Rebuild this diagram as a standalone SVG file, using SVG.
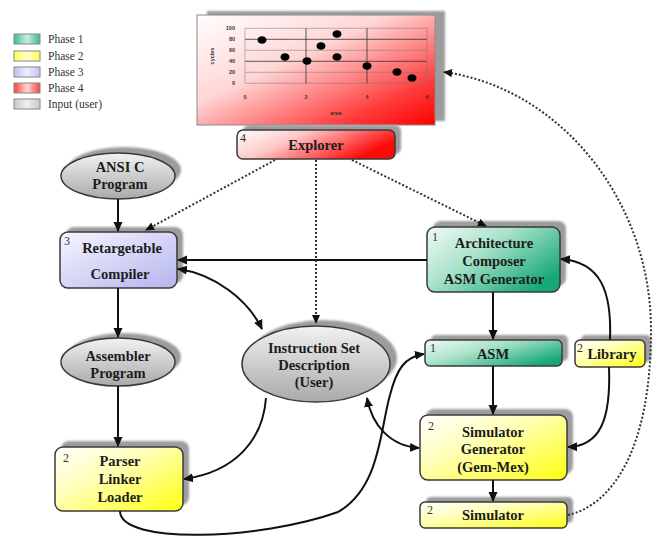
<svg xmlns="http://www.w3.org/2000/svg" width="655" height="542" viewBox="0 0 655 542">
<defs>
  <linearGradient id="gGreen" x1="0" y1="0" x2="1" y2="0.7">
    <stop offset="0" stop-color="#f2fbf7"/>
    <stop offset="0.45" stop-color="#a8e2c9"/>
    <stop offset="1" stop-color="#17a878"/>
  </linearGradient>
  <linearGradient id="gYellow" x1="0" y1="0" x2="1" y2="1">
    <stop offset="0" stop-color="#ffffff"/>
    <stop offset="0.4" stop-color="#ffffb8"/>
    <stop offset="1" stop-color="#ffff10"/>
  </linearGradient>
  <linearGradient id="gBlue" x1="0" y1="0" x2="1" y2="1">
    <stop offset="0" stop-color="#f6f6ff"/>
    <stop offset="1" stop-color="#b4b4ee"/>
  </linearGradient>
  <linearGradient id="gRed" x1="0" y1="0" x2="1" y2="0.4">
    <stop offset="0" stop-color="#ffffff"/>
    <stop offset="0.4" stop-color="#ffc8c8"/>
    <stop offset="1" stop-color="#ff0808"/>
  </linearGradient>
  <linearGradient id="gChart" x1="0" y1="0" x2="1" y2="1">
    <stop offset="0" stop-color="#ffffff"/>
    <stop offset="0.4" stop-color="#ffd6d6"/>
    <stop offset="0.8" stop-color="#ff3a3a"/>
    <stop offset="1" stop-color="#ff0000"/>
  </linearGradient>
  <linearGradient id="gGray" x1="0" y1="0" x2="0" y2="1">
    <stop offset="0" stop-color="#f2f2f2"/>
    <stop offset="1" stop-color="#a9a9a9"/>
  </linearGradient>
  <linearGradient id="gGrayH" x1="0" y1="0" x2="1" y2="0">
    <stop offset="0" stop-color="#c8c8c8"/>
    <stop offset="0.5" stop-color="#f0f0f0"/>
    <stop offset="1" stop-color="#c8c8c8"/>
  </linearGradient>
  <linearGradient id="lGreen" x1="0" y1="0" x2="1" y2="0">
    <stop offset="0" stop-color="#3dbb8c"/>
    <stop offset="0.5" stop-color="#c8eede"/>
    <stop offset="1" stop-color="#3dbb8c"/>
  </linearGradient>
  <linearGradient id="lYellow" x1="0" y1="0" x2="1" y2="0">
    <stop offset="0" stop-color="#ffff50"/>
    <stop offset="0.5" stop-color="#ffffd0"/>
    <stop offset="1" stop-color="#ffff50"/>
  </linearGradient>
  <linearGradient id="lBlue" x1="0" y1="0" x2="1" y2="0">
    <stop offset="0" stop-color="#c0c0f0"/>
    <stop offset="0.5" stop-color="#f0f0ff"/>
    <stop offset="1" stop-color="#c0c0f0"/>
  </linearGradient>
  <linearGradient id="lRed" x1="0" y1="0" x2="1" y2="0">
    <stop offset="0" stop-color="#ff4040"/>
    <stop offset="0.5" stop-color="#ffd8d8"/>
    <stop offset="1" stop-color="#ff4040"/>
  </linearGradient>
  <filter id="blur" x="-10%" y="-10%" width="120%" height="120%">
    <feGaussianBlur stdDeviation="1.2"/>
  </filter>
  <marker id="ah" viewBox="0 0 10 10" refX="9" refY="5" markerWidth="10" markerHeight="10" markerUnits="userSpaceOnUse" orient="auto-start-reverse">
    <path d="M0,0.5 L10,5 L0,9.5 z" fill="#111"/>
  </marker>
  <marker id="ahd" viewBox="0 0 10 10" refX="9" refY="5" markerWidth="9" markerHeight="9" markerUnits="userSpaceOnUse" orient="auto">
    <path d="M0,0.5 L10,5 L0,9.5 z" fill="#111"/>
  </marker>
</defs>
<style>
  .box{stroke:#3a3a3a;stroke-width:1.5}
  .sh{fill:#9c9c9c;filter:url(#blur)}
  .t{font-family:"Liberation Serif",serif;font-weight:bold;font-size:14.5px;fill:#1c1c1c;text-anchor:middle}
  .n{font-family:"Liberation Serif",serif;font-size:12px;fill:#333}
  .lg{font-family:"Liberation Serif",serif;font-size:11.5px;fill:#333}
  .sw{stroke:#888;stroke-width:1}
  .c{stroke:#111;stroke-width:2;fill:none}
  .d{stroke:#333;stroke-width:2;fill:none;stroke-dasharray:2 2}
  .ax{font-family:"Liberation Sans",sans-serif;font-size:5.5px;font-weight:bold;fill:#333}
  .gd{stroke:#333;stroke-width:0.8}
  .gl{stroke:#777;stroke-width:0.5}
</style>

<g id="legend">
  <rect class="sw" x="14" y="34" width="26" height="10" fill="url(#lGreen)"/>
  <text class="lg" x="48" y="43">Phase 1</text>
  <rect class="sw" x="14" y="51" width="26" height="10" fill="url(#lYellow)"/>
  <text class="lg" x="48" y="60">Phase 2</text>
  <rect class="sw" x="14" y="67" width="26" height="10" fill="url(#lBlue)"/>
  <text class="lg" x="48" y="76">Phase 3</text>
  <rect class="sw" x="14" y="83" width="26" height="10" fill="url(#lRed)"/>
  <text class="lg" x="48" y="92">Phase 4</text>
  <rect class="sw" x="14" y="99" width="26" height="10" fill="url(#gGrayH)"/>
  <text class="lg" x="48" y="108">Input (user)</text>
</g>

<g id="chart">
  <rect class="sh" x="207" y="11" width="238" height="110"/>
  <rect x="197" y="15" width="238" height="110" fill="url(#gChart)" stroke="#8a8a8a" stroke-width="1"/>
  <line class="gl" x1="245" y1="28.3" x2="427" y2="28.3"/>
  <line class="gd" x1="245" y1="39.3" x2="427" y2="39.3"/>
  <line class="gl" x1="245" y1="50.3" x2="427" y2="50.3"/>
  <line class="gd" x1="245" y1="61.3" x2="427" y2="61.3"/>
  <line class="gl" x1="245" y1="72.3" x2="427" y2="72.3"/>
  <line class="gl" x1="245" y1="83.3" x2="427" y2="83.3"/>
  <line class="gl" x1="245" y1="28.3" x2="245" y2="83.3"/>
  <line class="gd" x1="306" y1="28.3" x2="306" y2="83.3"/>
  <line class="gd" x1="367" y1="28.3" x2="367" y2="83.3"/>
  <line class="gl" x1="427" y1="28.3" x2="427" y2="83.3"/>
  <g class="ax" text-anchor="end">
    <text x="235" y="30.3">100</text>
    <text x="235" y="41.3">80</text>
    <text x="235" y="52.3">60</text>
    <text x="235" y="63.3">40</text>
    <text x="235" y="74.3">20</text>
    <text x="235" y="85.3">0</text>
  </g>
  <g class="ax" text-anchor="middle">
    <text x="245" y="99">0</text>
    <text x="306" y="99">2</text>
    <text x="367" y="99">4</text>
    <text x="427" y="99">6</text>
    <text x="336" y="115">area</text>
    <text x="0" y="0" transform="translate(214,56) rotate(-90)">cycles</text>
  </g>
  <g fill="#000">
    <ellipse cx="262" cy="40" rx="4.5" ry="3.8"/>
    <ellipse cx="285" cy="57" rx="4.5" ry="3.8"/>
    <ellipse cx="307" cy="61" rx="4.5" ry="3.8"/>
    <ellipse cx="321" cy="46" rx="4.5" ry="3.8"/>
    <ellipse cx="337" cy="34" rx="4.5" ry="3.8"/>
    <ellipse cx="337" cy="57" rx="4.5" ry="3.8"/>
    <ellipse cx="367" cy="66" rx="4.5" ry="3.8"/>
    <ellipse cx="397" cy="72" rx="4.5" ry="3.8"/>
    <ellipse cx="412" cy="78" rx="4.5" ry="3.8"/>
  </g>
</g>

<g id="explorer">
  <rect class="sh" x="243" y="125" width="158" height="29" rx="6"/>
  <rect class="box" x="237" y="130" width="158" height="29" rx="6" fill="url(#gRed)"/>
  <text class="n" x="240" y="142">4</text>
  <text class="t" x="316" y="150">Explorer</text>
</g>

<g id="ansi-c">
  <ellipse class="sh" cx="124" cy="170" rx="57" ry="23"/>
  <ellipse class="box" cx="118" cy="176" rx="57" ry="23" fill="url(#gGray)"/>
  <text class="t" x="120" y="172">ANSI C</text>
  <text class="t" x="120" y="189">Program</text>
</g>

<g id="compiler">
  <rect class="sh" x="66" y="227" width="117" height="56" rx="8"/>
  <rect class="box" x="60" y="232" width="117" height="56" rx="8" fill="url(#gBlue)"/>
  <text class="n" x="64" y="245">3</text>
  <text class="t" x="122" y="253">Retargetable</text>
  <text class="t" x="120" y="279">Compiler</text>
</g>

<g id="assembler">
  <ellipse class="sh" cx="124" cy="357" rx="57" ry="24"/>
  <ellipse class="box" cx="118" cy="362" rx="57" ry="24" fill="url(#gGray)"/>
  <text class="t" x="118" y="361">Assembler</text>
  <text class="t" x="118" y="378">Program</text>
</g>

<g id="parser">
  <rect class="sh" x="61" y="441" width="128" height="64" rx="8"/>
  <rect class="box" x="55" y="447" width="128" height="64" rx="8" fill="url(#gYellow)"/>
  <text class="n" x="63" y="462">2</text>
  <text class="t" x="120" y="466">Parser</text>
  <text class="t" x="120" y="484">Linker</text>
  <text class="t" x="120" y="502">Loader</text>
</g>

<g id="isd">
  <ellipse class="sh" cx="323" cy="358" rx="74" ry="38"/>
  <ellipse class="box" cx="316" cy="364" rx="74" ry="38" fill="url(#gGray)"/>
  <text class="t" x="314" y="353">Instruction Set</text>
  <text class="t" x="314" y="370">Description</text>
  <text class="t" x="314" y="387">(User)</text>
</g>

<g id="arch">
  <rect class="sh" x="433" y="221" width="133" height="65" rx="8"/>
  <rect class="box" x="427" y="227" width="133" height="65" rx="8" fill="url(#gGreen)"/>
  <text class="n" x="432" y="241">1</text>
  <text class="t" x="494" y="248">Architecture</text>
  <text class="t" x="494" y="266">Composer</text>
  <text class="t" x="494" y="284">ASM Generator</text>
</g>

<g id="asm">
  <rect class="sh" x="431" y="335" width="137" height="26" rx="5"/>
  <rect class="box" x="425" y="340" width="137" height="26" rx="5" fill="url(#gGreen)"/>
  <text class="n" x="430" y="352">1</text>
  <text class="t" x="493" y="358.5">ASM</text>
</g>

<g id="library">
  <rect class="sh" x="581" y="335" width="70" height="27" rx="5"/>
  <rect class="box" x="575" y="340" width="70" height="27" rx="5" fill="url(#gYellow)"/>
  <text class="n" x="577" y="352">2</text>
  <text class="t" x="612" y="358.5">Library</text>
</g>

<g id="simgen">
  <rect class="sh" x="426" y="409" width="147" height="65" rx="8"/>
  <rect class="box" x="420" y="415" width="147" height="65" rx="8" fill="url(#gYellow)"/>
  <text class="n" x="428" y="430">2</text>
  <text class="t" x="493" y="437">Simulator</text>
  <text class="t" x="493" y="454">Generator</text>
  <text class="t" x="493" y="472">(Gem-Mex)</text>
</g>

<g id="simulator">
  <rect class="sh" x="426" y="497" width="147" height="26" rx="5"/>
  <rect class="box" x="420" y="502" width="147" height="26" rx="5" fill="url(#gYellow)"/>
  <text class="n" x="427" y="514">2</text>
  <text class="t" x="493" y="520">Simulator</text>
</g>

<g id="connectors">
  <path class="c" d="M118,199 L118,231" marker-end="url(#ah)"/>
  <path class="c" d="M118,288 L118,337" marker-end="url(#ah)"/>
  <path class="c" d="M118,386 L118,446" marker-end="url(#ah)"/>
  <path class="c" d="M427,260 L178,260" marker-end="url(#ah)"/>
  <path class="c" d="M178,269 C215,274 248,300 262,329" marker-start="url(#ah)" marker-end="url(#ah)"/>
  <path class="c" d="M266,398 C263,440 235,472 184,479" marker-end="url(#ah)"/>
  <path class="c" d="M120,511 C120,545 260,540 338,512 C380,488 380,430 390,395 C397,368 405,357 424,354" marker-end="url(#ah)"/>
  <path class="c" d="M367,398 C372,425 390,446 419,448" marker-start="url(#ah)" marker-end="url(#ah)"/>
  <path class="c" d="M493,292 L493,339" marker-end="url(#ah)"/>
  <path class="c" d="M493,366 L493,414" marker-end="url(#ah)"/>
  <path class="c" d="M610,340 C612,290 600,262 561,259" marker-end="url(#ah)"/>
  <path class="c" d="M609,367 C611,420 600,446 568,447" marker-end="url(#ah)"/>
  <path class="c" d="M493,480 L493,501" marker-end="url(#ah)"/>
  <path class="d" d="M275,160 L146,230" marker-end="url(#ahd)"/>
  <path class="d" d="M316,160 L316,323" marker-end="url(#ahd)"/>
  <path class="d" d="M352,160 L486,226" marker-end="url(#ahd)"/>
  <path class="d" d="M568,515 C612,505 651,450 651,330 C651,200 560,88 444,72" marker-end="url(#ahd)"/>
</g>
</svg>
